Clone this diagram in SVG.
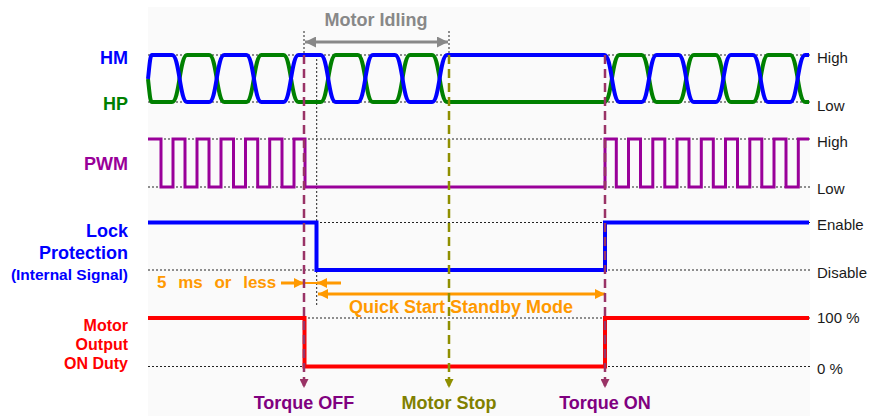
<svg xmlns="http://www.w3.org/2000/svg" width="871" height="416" viewBox="0 0 871 416">
<style>
text{font-family:"Liberation Sans",Arial,sans-serif}
.lbl{font-weight:bold;font-size:18px;text-anchor:end}
.lvl{font-size:15px;fill:#1a1a1a}
.guide{stroke:#222;stroke-width:1;stroke-dasharray:2,2;fill:none}
.sig{fill:none;stroke-linejoin:miter;stroke-linecap:butt}
.ev{stroke-width:2.5;stroke-dasharray:9,5;fill:none}
.evt{font-weight:bold;font-size:18px;text-anchor:middle}
.orange{stroke:#ff9900;stroke-width:3;fill:none}
</style>
<defs>
<marker id="ahOrange" viewBox="0 0 10 10" refX="10" refY="5" markerWidth="10" markerHeight="10" markerUnits="userSpaceOnUse" orient="auto-start-reverse"><path d="M0,0 L10,5 L0,10 z" fill="#ff9900"/></marker>
<marker id="ahGray" viewBox="0 0 10 10" refX="10" refY="5" markerWidth="11" markerHeight="11" markerUnits="userSpaceOnUse" orient="auto-start-reverse"><path d="M0,0 L10,5 L0,10 z" fill="#888888"/></marker>
<marker id="ahTorque" viewBox="0 0 10 10" refX="10" refY="5" markerWidth="9" markerHeight="9" markerUnits="userSpaceOnUse" orient="auto"><path d="M0,0 L10,5 L0,10 z" fill="#993366"/></marker>
<marker id="ahStop" viewBox="0 0 10 10" refX="10" refY="5" markerWidth="9" markerHeight="9" markerUnits="userSpaceOnUse" orient="auto"><path d="M0,0 L10,5 L0,10 z" fill="#8f8f00"/></marker>
</defs>
<rect x="148" y="7" width="662" height="409" fill="#fafafa"/>
<g id="guides">
<path class="guide" d="M148,55 H810 M148,102 H810 M148,139 H810 M148,187 H810 M148,222.5 H810 M148,270 H810 M148,318 H810 M148,366.5 H810"/>
<path class="guide" d="M304,31 V55 M449,31 V55 M316.7,55 V305"/>
</g>
<g id="labels-left">
<text class="lbl" x="128" y="64" fill="#0000ff">HM</text>
<text class="lbl" x="128" y="110" fill="#008000">HP</text>
<text class="lbl" x="128" y="170" fill="#990099">PWM</text>
<text class="lbl" x="128" y="237" fill="#0000ff">Lock</text>
<text class="lbl" x="128" y="259" fill="#0000ff">Protection</text>
<text class="lbl" x="128" y="280" fill="#0000ff" style="font-size:15.5px">(Internal Signal)</text>
<text class="lbl" x="128" y="331" fill="#ff0000" style="font-size:16px">Motor</text>
<text class="lbl" x="128" y="350" fill="#ff0000" style="font-size:16px">Output</text>
<text class="lbl" x="128" y="369" fill="#ff0000" style="font-size:16px">ON Duty</text>
</g>
<g id="labels-right">
<text class="lvl" x="817" y="63">High</text>
<text class="lvl" x="817" y="111">Low</text>
<text class="lvl" x="817" y="147">High</text>
<text class="lvl" x="817" y="194">Low</text>
<text class="lvl" x="817" y="230">Enable</text>
<text class="lvl" x="817" y="277.5">Disable</text>
<text class="lvl" x="817" y="323">100 %</text>
<text class="lvl" x="817" y="374">0 %</text>
</g>
<g id="signal-hp">
<path class="sig" stroke="#008000" stroke-width="4" d="M148,79 C149.5,92 150,102 152,102 H172 C179.5,102 179.65,55 187.15,55 H209.15 C216.65,55 216.8,102 224.3,102 H246.3 C253.8,102 253.95,55 261.45,55 H283.45 C290.95,55 291.1,102 298.6,102 H320.6 C328.1,102 328.25,55 335.75,55 H357.75 C365.25,55 365.4,102 372.9,102 H394.9 C402.4,102 402.55,55 410.05,55 H432.05 C439.55,55 439.7,102 447.2,102 H604.35 C611.85,102 612,55 619.5,55 H641.5 C649,55 649.15,102 656.65,102 H678.65 C686.15,102 686.3,55 693.8,55 H715.8 C723.3,55 723.45,102 730.95,102 H752.95 C760.45,102 760.6,55 768.1,55 H790.1 C797.6,55 797.75,102 805.25,102 H809"/>
</g>
<g id="signal-hm">
<path class="sig" stroke="#0000ff" stroke-width="4" d="M148,79 C149.5,66 150,55 152,55 H172 C179.5,55 179.65,102 187.15,102 H209.15 C216.65,102 216.8,55 224.3,55 H246.3 C253.8,55 253.95,102 261.45,102 H283.45 C290.95,102 291.1,55 298.6,55 H320.6 C328.1,55 328.25,102 335.75,102 H357.75 C365.25,102 365.4,55 372.9,55 H394.9 C402.4,55 402.55,102 410.05,102 H432.05 C439.55,102 439.7,55 447.2,55 H604.35 C611.85,55 612,102 619.5,102 H641.5 C649,102 649.15,55 656.65,55 H678.65 C686.15,55 686.3,102 693.8,102 H715.8 C723.3,102 723.45,55 730.95,55 H752.95 C760.45,55 760.6,102 768.1,102 H790.1 C797.6,102 797.75,55 805.25,55 H809"/>
</g>
<g id="signal-pwm">
<path class="sig" stroke="#990099" stroke-width="3" d="M148,139 H161 V187 H173 V139 H185 V187 H197 V139 H209 V187 H221 V139 H233.5 V187 H245.5 V139 H257.7 V187 H269.7 V139 H282 V187 H294 V139 H305 V187 H605 V139 H616.3 V187 H628.5 V139 H640.5 V187 H652.8 V139 H664.8 V187 H677 V139 H689 V187 H701.3 V139 H713.3 V187 H725.5 V139 H737.5 V187 H749.8 V139 H761.8 V187 H774 V139 H786 V187 H798.3 V139 H809"/>
</g>
<g id="signal-lock">
<path class="sig" stroke="#0000ff" stroke-width="4" d="M148,222.5 H316.5 V270 H605 V222.5 H809"/>
</g>
<g id="signal-motor">
<path class="sig" stroke="#ff0000" stroke-width="4" d="M148,318 H304.5 V366.5 H605 V318 H809"/>
</g>
<g id="annotations">
<text x="376" y="26" class="evt" fill="#888888">Motor Idling</text>
<path d="M305,42 H448" stroke="#888888" stroke-width="3" fill="none" marker-start="url(#ahGray)" marker-end="url(#ahGray)"/>
<text x="157" y="288" fill="#ff9900" style="font-weight:bold;font-size:17px;word-spacing:7px">5 ms or less</text>
<path class="orange" d="M281,283 H304" marker-end="url(#ahOrange)"/>
<path class="orange" d="M341,283 H317" marker-end="url(#ahOrange)"/>
<path d="M304,283 H317" stroke="#ff9900" stroke-width="2"/>
<path class="orange" d="M318,294 H605" marker-start="url(#ahOrange)" marker-end="url(#ahOrange)"/>
<text x="461" y="312.5" class="evt" fill="#ff9900">Quick Start Standby Mode</text>
</g>
<g id="connectors">
<path class="ev" stroke="#993366" d="M304,55 V388" marker-end="url(#ahTorque)"/>
<path class="ev" stroke="#8f8f00" d="M449,55 V388" marker-end="url(#ahStop)"/>
<path class="ev" stroke="#993366" d="M605,55 V388" marker-end="url(#ahTorque)"/>
</g>
<g id="event-labels">
<text x="304" y="409" class="evt" fill="#800080">Torque OFF</text>
<text x="449" y="409" class="evt" fill="#808000">Motor Stop</text>
<text x="605" y="409" class="evt" fill="#800080">Torque ON</text>
</g>
</svg>
